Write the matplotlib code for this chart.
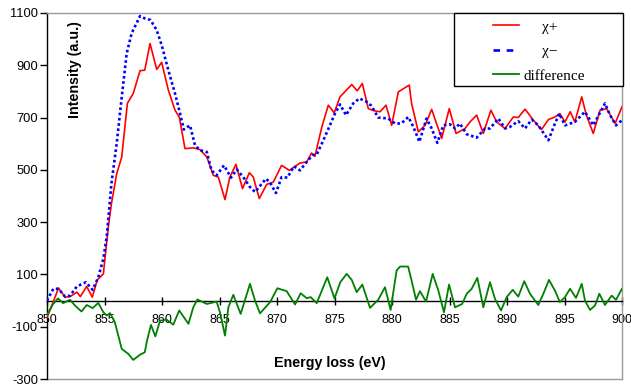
import matplotlib
matplotlib.use("Agg")
import matplotlib.pyplot as plt
from matplotlib.lines import Line2D
from matplotlib.patches import Rectangle

# ---- data ----
chi_plus_E = [850.0, 850.5, 851.0, 851.57, 852.0, 852.6, 852.9, 853.45, 853.94, 854.37, 854.9,
              855.33, 855.6, 856.06, 856.5, 856.99, 857.5, 858.09, 858.5, 858.96, 859.54, 859.97,
              860.55, 861.13, 861.5, 862.0, 862.72, 863.3, 863.9, 864.46, 864.9, 865.48, 865.9,
              866.43, 867.0, 867.6, 867.94, 868.46, 869.1, 869.68, 870.4, 871.07, 872.0, 872.58,
              873.0, 873.3, 873.9, 874.46, 874.98, 875.48, 876.5, 876.98, 877.42, 877.94, 878.5,
              878.96, 879.48, 879.97, 880.55, 881.5, 881.7, 882.29, 882.87, 883.45, 884.32, 884.98,
              885.57, 886.35, 886.78, 887.36, 887.94, 888.6, 889.1, 889.83, 890.55, 890.98, 891.57,
              892.29, 893.0, 893.6, 894.17, 894.6, 895.04, 895.5, 895.9, 896.5, 896.9, 897.5,
              898.09, 898.67, 899.4, 900.0]
chi_plus_I = [-65, -10, 48, 13, 15, 32, 15, 54, 13, 79, 102,
              281, 370, 485, 549, 754, 792, 879, 881, 983, 884, 911,
              805, 728, 702, 581, 584, 577, 549, 479, 472, 386, 472,
              521, 428, 489, 472, 390, 444, 453, 517, 498, 526, 530,
              564, 552, 664, 747, 718, 779, 826, 802, 830, 734, 725,
              722, 747, 670, 798, 824, 754, 645, 670, 731, 620, 734,
              639, 658, 683, 709, 639, 728, 683, 658, 702, 700, 732,
              690, 654, 692, 702, 715, 683, 722, 683, 779, 709, 639,
              728, 734, 677, 741]

chi_minus_E = [850.0, 850.55, 851.0, 851.57, 852.0, 852.6, 853.39, 853.97, 854.46, 854.9, 855.19,
               855.6, 856.06, 856.5, 856.93, 857.36, 858.09, 858.5, 859.0, 859.54, 859.97, 860.55,
               861.13, 861.57, 861.9, 862.43, 862.87, 863.3, 863.9, 864.3, 864.75, 865.39, 866.0,
               866.5, 867.07, 867.65, 868.09, 869.04, 869.4, 869.9, 870.4, 870.9, 871.48, 872.0,
               872.58, 873.1, 873.45, 874.03, 874.6, 875.04, 875.48, 876.0, 876.63, 877.16, 877.8,
               878.2, 878.8, 879.68, 880.26, 880.8, 881.42, 881.86, 882.38, 883.0, 883.45, 883.94,
               884.46, 885.04, 885.5, 885.9, 886.5, 887.36, 888.09, 888.52, 889.25, 889.83, 890.26,
               890.98, 891.57, 892.14, 892.72, 893.6, 894.17, 894.55, 895.04, 895.9, 896.78, 897.5,
               898.52, 898.96, 899.48, 900.0]
chi_minus_I = [0, 45, 45, 15, 19, 54, 70, 41, 89, 160, 243,
               447, 600, 779, 945, 1022, 1088, 1079, 1073, 1034, 977, 881,
               792, 715, 654, 670, 594, 575, 568, 498, 479, 517, 470,
               501, 472, 434, 415, 466, 451, 411, 472, 470, 513, 498,
               530, 556, 558, 613, 670, 715, 750, 709, 754, 773, 760,
               745, 700, 696, 677, 677, 702, 664, 607, 696, 658, 603,
               670, 674, 658, 677, 636, 623, 658, 658, 696, 658, 664,
               686, 658, 692, 670, 613, 677, 715, 670, 683, 722, 670,
               754, 709, 670, 690]

diff_E = [850.0, 850.5, 850.95, 851.4, 852.0, 852.43, 853.0, 853.45, 853.97, 854.46, 854.9,
          855.19, 855.48, 855.9, 856.5, 857.07, 857.5, 858.09, 858.5, 858.7, 859.04, 859.42,
          859.83, 860.4, 860.98, 861.5, 862.0, 862.3, 862.72, 863.07, 863.9, 864.75, 865.04,
          865.48, 865.77, 866.2, 866.84, 867.65, 868.09, 868.52, 869.4, 870.03, 870.84, 871.57,
          872.06, 872.58, 872.93, 873.45, 873.9, 874.37, 875.0, 875.5, 876.06, 876.5, 876.93,
          877.42, 878.09, 878.8, 879.39, 879.88, 880.4, 880.7, 881.4, 881.7, 882.09, 882.43,
          882.96, 883.54, 884.03, 884.52, 884.96, 885.48, 886.1, 886.5, 886.93, 887.42, 887.94,
          888.52, 888.96, 889.48, 889.97, 890.5, 890.98, 891.5, 892.0, 892.72, 893.16, 893.65,
          894.17, 894.6, 895.04, 895.48, 896.0, 896.5, 896.78, 897.22, 897.65, 898.03, 898.52,
          899.1, 899.48, 900.0]
diff_I = [-55, -15, 8, -10, 3, -19, -42, -17, -29, -9, -45,
          -57, -48, -83, -185, -204, -227, -207, -198, -153, -93, -137,
          -77, -73, -92, -38, -70, -89, -26, 4, -13, -4, -45,
          -134, -26, 22, -51, 64, 0, -49, -6, 47, 36, -15,
          28, 9, 13, -10, 38, 89, 8, 70, 102, 79, 32,
          61, -28, 3, 51, -36, 115, 130, 130, 77, 3, 36,
          -4, 102, 38, -45, 61, -26, -13, 26, 45, 87, -26,
          70, 6, -38, 13, 41, 15, 74, 26, -17, 26, 79,
          38, -6, 13, 45, 10, 64, 0, -36, -19, 26, -17,
          19, 3, 45]

x_ticks = [850, 855, 860, 865, 870, 875, 880, 885, 890, 895, 900]
y_ticks = [-300, -100, 100, 300, 500, 700, 900, 1100]
legend_labels = ["\u03c7+", "\u03c7\u2212", "difference"]

# ---- figure ----
W, H = 631, 385
plt.rcParams['font.family'] = ['Liberation Sans', 'DejaVu Sans']
fig = plt.figure(figsize=(W / 100, H / 100), dpi=100)


def fx(x):
    return x / W


def fy(y):
    return 1 - y / H


L, R, T, B = 47, 622, 12.9, 379
ax = fig.add_axes([fx(L), fy(B), (R - L) / W, (B - T) / H])
ax.set_xlim(850, 900)
ax.set_ylim(-300, 1100)

grey = '#9a9a9a'
ax.plot(chi_plus_E, chi_plus_I, color='#ff0000', lw=1.2, zorder=3)
ax.plot(chi_minus_E, chi_minus_I, color='#0000ff', lw=1.9, linestyle=(0, (1, 1)),
        dash_capstyle='butt', zorder=4)
ax.plot(diff_E, diff_I, color='#008000', lw=1.3, zorder=3)

for s in ['top', 'right']:
    ax.spines[s].set_color(grey)
    ax.spines[s].set_linewidth(1.0)
ax.spines['left'].set_color('black')
ax.spines['left'].set_linewidth(1.0)
ax.spines['bottom'].set_position(('data', 0))
ax.spines['bottom'].set_color('black')
ax.spines['bottom'].set_linewidth(1.0)
ax.axhline(-300, color=grey, lw=1.0, clip_on=False, zorder=1)

ax.set_xticks(x_ticks)
ax.set_yticks(y_ticks)
ax.set_xticklabels([str(v) for v in x_ticks])
ax.set_yticklabels([str(v) for v in y_ticks])
ax.tick_params(axis='x', direction='inout', length=6, width=1, pad=7, labelsize=9)
ax.tick_params(axis='y', direction='out', length=5, width=1, pad=1.5, labelsize=9.3)

fig.text(fx(75), fy(70), 'Intensity (a.u.)', rotation=90, ha='center', va='center',
         fontsize=10.3, fontweight='bold')
fig.text(fx(330), fy(363), 'Energy loss (eV)', ha='center', va='center',
         fontsize=10.3, fontweight='bold')

# ---- legend box ----
fig.patches.append(Rectangle((fx(454.3), fy(85.7)), (622.7 - 454.3) / W, (85.7 - 12.7) / H,
                             transform=fig.transFigure, facecolor='white', edgecolor='black',
                             lw=1.0, zorder=10))
styles = [dict(color='#ff0000', lw=1.2),
          dict(color='#0000ff', lw=1.9, linestyle=(0, (2.5, 2.5)), dash_capstyle='butt'),
          dict(color='#008000', lw=1.3)]
rows = [25, 50, 74]
text_x = [542, 542, 523]
for lab, st, yy, tx in zip(legend_labels, styles, rows, text_x):
    fig.lines.append(Line2D([fx(493), fx(519)], [fy(yy), fy(yy)], transform=fig.transFigure,
                            zorder=11, **st))
    fig.text(fx(tx), fy(yy + 2), lab, ha='left', va='center', fontsize=11,
             family=['Liberation Serif', 'DejaVu Serif'], zorder=12)

fig.savefig('out.png', dpi=100)
